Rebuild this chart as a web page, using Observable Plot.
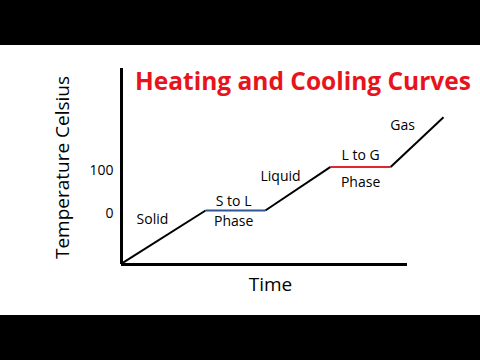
<!DOCTYPE html>
<html>
<head>
<meta charset="utf-8">
<script src="https://cdn.jsdelivr.net/npm/d3@7"></script>
<script src="https://cdn.jsdelivr.net/npm/@observablehq/plot@0.6"></script>
<style>
  html, body { margin: 0; padding: 0; background: #fff; width: 480px; height: 360px; overflow: hidden; }
  .bar { height: 45px; background: #000; }
  #chart { height: 270px; }
  svg { display: block; font-family: "Open Sans", sans-serif; }
</style>
</head>
<body>
<div class="bar"></div>
<div id="chart"></div>
<div class="bar"></div>
<script>
// Heating curve vertices (time in arbitrary units, temperature in °C-like units)
const times = [0, 29.4, 50.3, 73.1, 94.1, 112.6];
const temps = [-122, 0, 0, 100, 100, 214];
const segmentColors = ["#000000", "#2f5597", "#000000", "#e3262b", "#000000"];

// Annotation labels
const labelTexts = ["Solid", "S to L", "Phase", "Liquid", "L to G", "Phase", "Gas"];
const labelTimes = [10.8, 39.2, 39.2, 55.6, 83.6, 83.6, 98.3];
const labelTemps = [-20.7, 20.7, -25, 78, 126, 64, 195];

const yTicks = [0, 100];
const titleText = "Heating and Cooling Curves";
const xTitle = "Time";
const yTitle = "Temperature Celsius";

const segments = times.slice(0, -1).map((t, i) => ({
  x1: t, y1: temps[i], x2: times[i + 1], y2: temps[i + 1], color: segmentColors[i]
}));
const labels = labelTexts.map((text, i) => ({ text, t: labelTimes[i], T: labelTemps[i] }));

const chart = Plot.plot({
  width: 480,
  height: 270,
  marginTop: 23,
  marginBottom: 51,
  marginLeft: 121,
  marginRight: 73,
  style: { fontFamily: "Open Sans, sans-serif", background: "white", color: "black" },
  x: { domain: [0, 100], axis: null },
  y: { domain: [-124, 326] },
  marks: [
    Plot.axisY({ ticks: yTicks, tickSize: 0, tickPadding: 8, fontSize: 14, dy: 3.5, label: null, tickFormat: d => String(d) }),
    Plot.link(segments, { x1: "x1", y1: "y1", x2: "x2", y2: "y2", stroke: "color", strokeWidth: 2 }),
    Plot.ruleX([0], { y1: -124, y2: 326, stroke: "black", strokeWidth: 3 }),
    Plot.ruleY([-124], { x1: 0, x2: 100, stroke: "black", strokeWidth: 3 }),
    Plot.text(labels, { x: "t", y: "T", text: "text", fontSize: 14, fill: "black" }),
    Plot.text([yTitle], { frameAnchor: "left", textAnchor: "middle", lineAnchor: "middle", rotate: -90, dx: -59, dy: 1, fontSize: 19, fill: "black" }),
    Plot.text([xTitle], { frameAnchor: "bottom", textAnchor: "middle", lineAnchor: "middle", dx: 6, dy: 20, fontSize: 19, fill: "black" }),
    Plot.text([titleText], { frameAnchor: "top", textAnchor: "middle", lineAnchor: "bottom", dx: 38.5, dy: 21.5, fontSize: 24.5, fontWeight: "bold", fill: "#e8141b" })
  ]
});
document.getElementById("chart").append(chart);
</script>
</body>
</html>
